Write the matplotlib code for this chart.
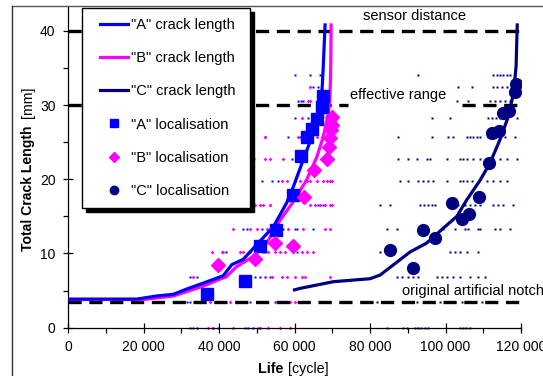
import numpy as np
import matplotlib
matplotlib.use('Agg')
import matplotlib.pyplot as plt
from matplotlib.lines import Line2D
from matplotlib.patches import Rectangle
from matplotlib.ticker import MultipleLocator

plt.rcParams['font.family'] = ['Liberation Sans', 'DejaVu Sans']
plt.rcParams['lines.scale_dashes'] = False

# ---------------- data (life in thousands of cycles, crack length in mm) ----------------
a_life = [0, 18.2, 23.4, 27.9, 31.4, 35.8, 41.1, 43.4, 46.4, 50.0, 54.4, 57.9, 59.7, 62.3, 64.6, 66.3, 67.2, 67.6, 68.1]
a_len = [3.85, 3.85, 4.27, 4.5, 5.2, 6.0, 7.0, 8.5, 9.2, 11.2, 13.6, 16.8, 19.0, 22.6, 25.7, 28.9, 31.1, 35.0, 40.8]

b_life = [0, 20.0, 23.4, 27.9, 31.4, 35.8, 42.0, 44.6, 49.1, 52.6, 56.2, 59.7, 63.2, 65.9, 67.6, 69.0, 69.4, 69.6, 69.7]
b_len = [3.8, 3.8, 4.0, 4.27, 4.85, 5.6, 6.9, 8.2, 9.6, 11.4, 14.5, 17.0, 19.9, 23.0, 25.7, 28.9, 31.1, 35.0, 40.8]

c_life = [60.0, 61.5, 70.3, 80.0, 82.7, 90.6, 95.0, 99.4, 103.0, 105.6, 109.2, 111.8, 114.4, 116.6, 118.0, 118.7, 119.0]
c_len = [5.1, 5.3, 6.2, 6.6, 7.1, 10.2, 11.4, 13.4, 15.0, 17.2, 19.9, 22.2, 25.3, 28.4, 31.6, 35.2, 40.8]

a_loc_life = [36.7, 46.9, 50.9, 55.1, 59.6, 61.6, 63.2, 64.6, 66.0, 67.4, 67.6]
a_loc_len = [4.6, 6.3, 11.0, 13.2, 17.9, 23.2, 25.7, 26.8, 28.1, 29.8, 31.2]

b_loc_life = [39.8, 49.6, 54.8, 59.7, 62.5, 65.2, 68.6, 69.1, 69.5, 69.8, 69.9, 70.0]
b_loc_len = [8.45, 9.2, 11.4, 11.0, 17.6, 21.2, 22.8, 24.4, 25.6, 26.6, 27.3, 28.4]

c_loc_life = [85.3, 91.3, 94.1, 97.2, 101.6, 104.4, 106.3, 108.9, 111.5, 112.4, 114.3, 115.3, 116.8, 118.4, 118.8]
c_loc_len = [10.5, 8.0, 13.2, 12.1, 16.8, 14.7, 15.3, 17.6, 22.2, 26.3, 26.5, 28.9, 29.2, 31.8, 32.9]

# raw localisation events: one list of lives per sensor row
dot_rows = [0, 3.4, 6.8, 10.2, 13.3, 16.6, 19.8, 22.8, 25.7, 28.2, 30.5, 32.5, 34.0]
a_dots = [
    [32.3, 33.1, 38.4, 39.7, 46.9, 47.7, 50.3],
    [30.5, 31.5, 32.3, 38.9, 39.7, 40.5, 46.9, 48.2, 54.8],
    [32.3, 34.2, 45.6, 46.9, 48.2, 49.5, 50.9, 53.5],
    [41.1, 41.9, 49.8, 51.7, 52.2, 59.6, 60.7],
    [46.4, 47.4, 51.4, 54.8, 56.9, 60.1, 60.7, 64.9],
    [53.5, 66.2, 67.6],
    [51.4, 54.0, 55.6, 60.1, 62.8],
    [49.3, 59.3, 60.4],
    [52.2, 58.3, 61.5],
    [60.1, 63.6, 64.6],
    [60.9, 61.7, 62.3],
    [64.9, 66.2],
    [60.1, 64.1, 66.8],
]
b_dots = [
    [34.2, 37.1, 38.4, 43.7, 49.0, 50.9, 53.0, 56.2, 58.8],
    [35.0, 37.6, 42.9, 44.8, 51.4, 52.2, 55.4, 56.7, 58.8, 60.1, 62.0, 69.4],
    [33.1, 41.6, 52.2, 54.0, 56.7, 58.0, 60.1, 62.0, 62.8, 69.4],
    [38.1, 40.8, 45.6, 46.4, 48.2, 49.8, 53.0, 54.8, 56.2, 57.5, 62.0, 63.3, 64.9],
    [43.7, 48.2, 50.1, 52.7, 58.3, 62.3, 68.1, 69.4],
    [49.5, 50.9, 51.7, 53.5, 64.1, 65.4, 66.8, 68.1, 69.4, 69.9],
    [56.7, 58.0, 61.5, 63.3, 64.1, 66.0, 67.6, 68.6, 69.4, 69.9],
    [52.2, 53.5, 57.0],
    [52.2, 60.9, 66.0, 67.3],
    [62.0],
    [63.6, 64.1],
    [64.1],
    [69.4],
]
c_dots = [
    [84.5, 88.7, 89.8, 91.9, 92.7, 93.5, 94.6, 95.4, 103.8, 104.6, 105.4, 106.5],
    [80.5, 81.9, 89.3, 90.3, 91.4, 92.5, 95.1, 95.9, 98.5, 104.4, 109.7],
    [87.2, 88.5, 90.1, 91.4, 92.7, 97.7, 99.1, 100.4, 102.0, 103.8, 106.5, 108.6, 110.5],
    [82.6, 84.2, 101.2, 102.5, 103.8, 105.7, 108.6],
    [84.5, 87.2, 99.3, 102.5, 105.2, 106.0, 108.6, 109.1, 113.1, 114.4, 117.1],
    [82.6, 85.3, 93.2, 94.3, 95.4, 96.4, 97.2, 103.3, 105.2, 106.5, 107.8, 109.1, 112.6, 113.9, 115.2, 117.9],
    [87.9, 90.1, 92.7, 94.0, 95.4, 96.7, 100.4, 103.8, 104.6, 105.7, 107.0, 111.0, 112.6, 114.4, 116.3],
    [87.4, 90.1, 92.5, 95.1, 95.9, 100.4, 103.8, 104.6, 105.7, 107.3, 109.1, 111.0, 112.6, 114.4, 116.3, 118.9],
    [87.4, 96.4, 100.7, 102.0, 105.7, 106.5, 107.3, 108.3, 109.1, 111.3, 112.3, 113.4, 114.4, 115.8, 118.4],
    [96.4, 101.2, 111.3, 112.3, 113.4, 114.4, 118.9],
    [103.0, 106.0, 111.8, 113.1, 114.4, 115.8, 117.1],
    [103.3, 107.0, 112.6, 113.6, 115.0, 116.3],
    [92.7, 112.6, 113.6, 114.4, 115.2, 116.3, 117.1],
]

sensor_distance = 40
effective_range = 30
notch_length = 3.5
effective_gap = (74.2, 104.3)   # gap in the 30 mm line behind its label

x_ticks = [0, 20000, 40000, 60000, 80000, 100000, 120000]
x_tick_labels = ['0', '20 000', '40 000', '60 000', '80 000', '100 000', '120 000']
y_ticks = [0, 10, 20, 30, 40]
y_tick_labels = ['0', '10', '20', '30', '40']

legend_labels = ['"A" crack length', '"B" crack length', '"C" crack length',
                 '"A" localisation', '"B" localisation', '"C" localisation']

BLUE, PINK, NAVY = '#0000FF', '#FF00FF', '#000080'

# ---------------- figure ----------------
W, H = 543, 376
fig = plt.figure(figsize=(W / 100, H / 100), dpi=100)
fx = lambda px: px / W
fy = lambda py: 1 - py / H

ax = fig.add_axes([fx(68), fy(327.7), fx(521) - fx(68), fy(6) - fy(327.7)])
ax.set_xlim(0, 120000)
ax.set_ylim(0, 43.35)


def flatten(rows, lists):
    xs, ys = [], []
    for r, row in zip(rows, lists):
        xs += row
        ys += [r] * len(row)
    return np.array(xs) * 1000, np.array(ys)


for dots, col, mk, ms in [(a_dots, BLUE, 's', 1.7), (b_dots, PINK, 'D', 1.9), (c_dots, NAVY, 's', 1.6)]:
    dx, dy = flatten(dot_rows, dots)
    ax.plot(dx, dy, ls='none', marker=mk, ms=ms, color=col, mec='none', clip_on=False, zorder=1)

dash_kw = dict(color='black', lw=2.4, dashes=(9.5, 5.5), zorder=2, solid_capstyle='butt')
ax.plot([0, 120000], [sensor_distance] * 2, **dash_kw)
ax.plot([0, effective_gap[0] * 1000], [effective_range] * 2, **dash_kw)
ax.plot([effective_gap[1] * 1000, 120000], [effective_range] * 2, **dash_kw)
ax.plot([0, 120000], [notch_length] * 2, **dash_kw)

ax.plot(np.array(c_life) * 1000, c_len, color=NAVY, lw=2.3, zorder=3)
ax.plot(np.array(b_life) * 1000, b_len, color=PINK, lw=2.3, zorder=3)
ax.plot(np.array(a_life) * 1000, a_len, color=BLUE, lw=2.3, zorder=3)

ax.plot(np.array(a_loc_life) * 1000, a_loc_len, ls='none', marker='s', ms=8, color=BLUE, zorder=4)
ax.plot(np.array(b_loc_life) * 1000, b_loc_len, ls='none', marker='D', ms=7, color=PINK, zorder=4)
ax.plot(np.array(c_loc_life) * 1000, c_loc_len, ls='none', marker='o', ms=8.5, color=NAVY, zorder=4)

ax.text(91700, 42.0, 'sensor distance', ha='center', va='center', fontsize=10.5)
ax.text(87400, 31.3, 'effective range', ha='center', va='center', fontsize=10.5)
ax.text(88500, 4.9, 'original artificial notch', ha='left', va='center', fontsize=10.5, clip_on=False)

# axes styling
for s in ['top', 'right']:
    ax.spines[s].set_visible(False)
for s in ['left', 'bottom']:
    ax.spines[s].set_linewidth(0.9)
ax.set_xticks(x_ticks)
ax.set_xticklabels(x_tick_labels)
ax.set_yticks(y_ticks)
ax.set_yticklabels(y_tick_labels)
ax.xaxis.set_minor_locator(MultipleLocator(10000))
ax.yaxis.set_minor_locator(MultipleLocator(5))
ax.tick_params(which='major', direction='inout', length=7, width=0.9, labelsize=10, pad=5.5)
ax.tick_params(which='minor', direction='out', length=3.5, width=0.9)

# axis titles (bold + regular parts)
fig.text(fx(28), fy(251), 'Total Crack Length', rotation=90, ha='center', va='bottom',
         fontsize=10.1, fontweight='bold')
fig.text(fx(28), fy(86), '[mm]', rotation=90, ha='center', va='top', fontsize=10.1)
fig.text(fx(258), fy(369), 'Life', ha='left', va='center', fontsize=10.3, fontweight='bold')
fig.text(fx(288), fy(369), '[cycle]', ha='left', va='center', fontsize=10.3)

# chart border (top and left)
fig.add_artist(Line2D([fx(12), 1], [fy(6), fy(6)], color='#555555', lw=1))
fig.add_artist(Line2D([fx(12), fx(12)], [0, fy(6)], color='#333333', lw=1))

# legend box with shadow
fig.patches.append(Rectangle((fx(86), fy(212)), fx(254) - fx(86), fy(12) - fy(212),
                             transform=fig.transFigure, facecolor='black', edgecolor='black', zorder=2))
fig.patches.append(Rectangle((fx(82), fy(208)), fx(250) - fx(82), fy(8) - fy(208),
                             transform=fig.transFigure, facecolor='white', edgecolor='black', lw=1, zorder=3))

handles = [
    Line2D([], [], color=BLUE, lw=2.3),
    Line2D([], [], color=PINK, lw=2.3),
    Line2D([], [], color=NAVY, lw=2.3),
    Line2D([], [], ls='none', marker='s', ms=5.5, color=BLUE),
    Line2D([], [], ls='none', marker='D', ms=5, color=PINK),
    Line2D([], [], ls='none', marker='o', ms=6, color=NAVY),
]
leg = fig.legend(handles, legend_labels, loc='upper left', bbox_to_anchor=(fx(100), fy(17.8)),
                 frameon=False, borderpad=0, borderaxespad=0, handlelength=1.92, handletextpad=0.2,
                 labelspacing=1.32, fontsize=10.5, numpoints=1)
leg.set_zorder(5)

fig.savefig('out.png', dpi=100)
